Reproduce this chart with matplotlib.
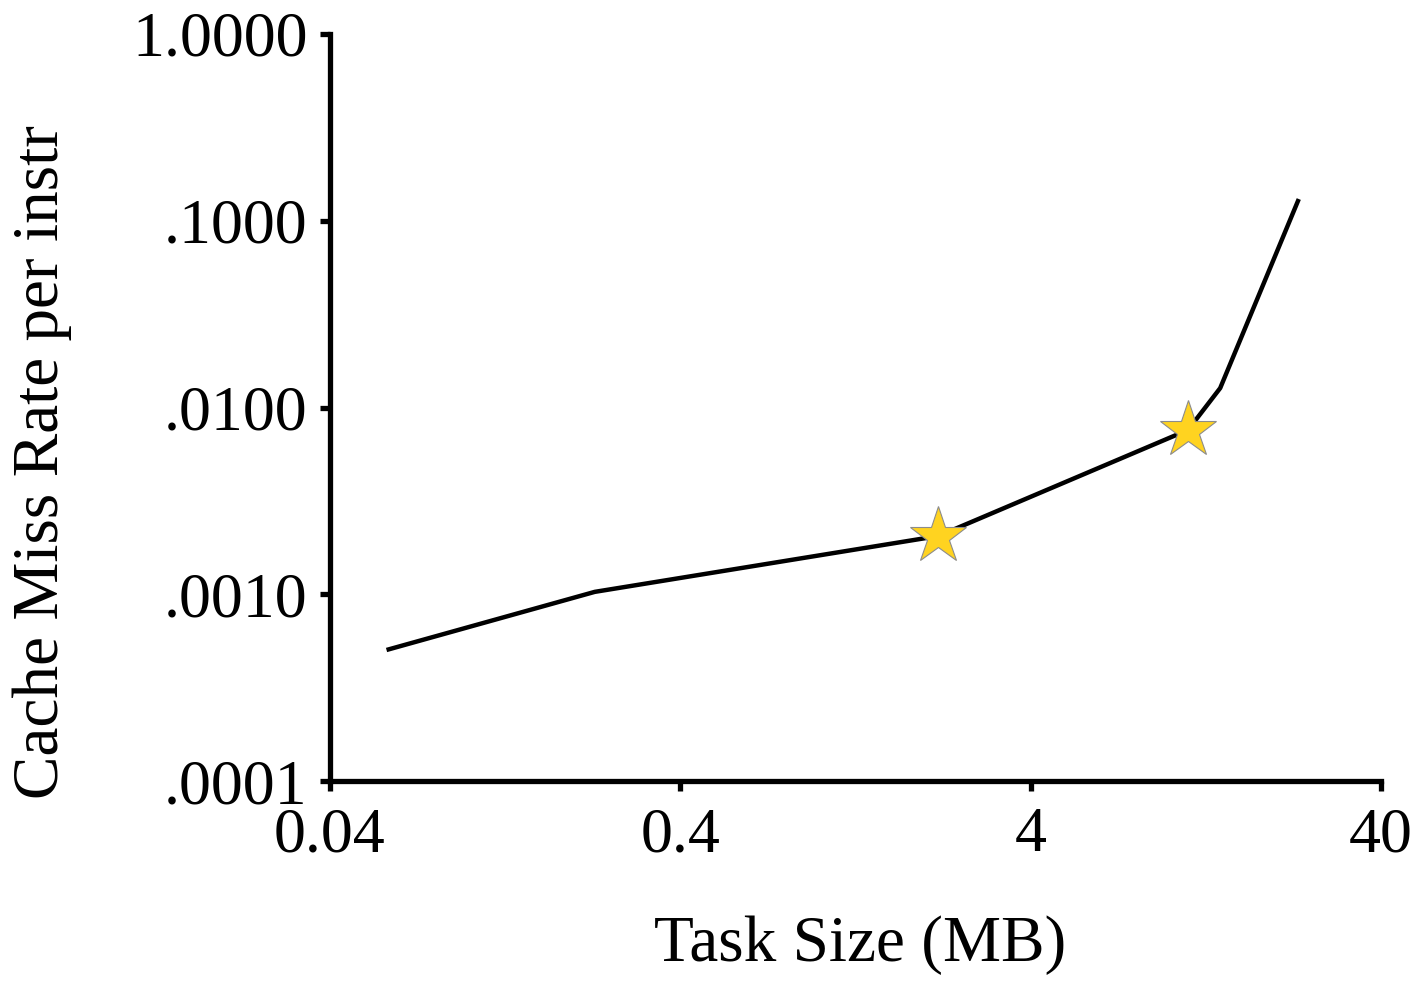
import matplotlib.pyplot as plt
from matplotlib.ticker import FixedLocator, FixedFormatter, NullLocator

# task size (MB) vs cache miss rate per instruction
task_size = [0.058, 0.228, 2.18, 11.25, 13.9, 23.3]
miss_rate = [0.000503, 0.00103, 0.00205, 0.00758, 0.0127, 0.1307]
star_idx = [2, 3]

x_ticks = [0.04, 0.4, 4, 40]
x_labels = ['0.04', '0.4', '4', '40']
y_ticks = [0.0001, 0.001, 0.01, 0.1, 1.0]
y_labels = ['.0001', '.0010', '.0100', '.1000', '1.0000']

plt.rcParams['font.family'] = ['Liberation Serif', 'DejaVu Serif']

fig = plt.figure(figsize=(14.17, 9.82), dpi=100)
ax = fig.add_axes([330 / 1417, 1 - 781 / 982, 1051 / 1417, 747 / 982])

ax.plot(task_size, miss_rate, color='black', lw=3.2, solid_capstyle='butt', zorder=2)
ax.plot([task_size[i] for i in star_idx], [miss_rate[i] for i in star_idx],
        ls='none', marker='*', ms=43, mfc='#FFD320', mec='#8c8c8c', mew=0.8, zorder=3)

ax.set_xscale('log')
ax.set_yscale('log')
ax.set_xlim(0.04, 40)
ax.set_ylim(0.0001, 1.0)
ax.xaxis.set_major_locator(FixedLocator(x_ticks))
ax.xaxis.set_major_formatter(FixedFormatter(x_labels))
ax.xaxis.set_minor_locator(NullLocator())
ax.yaxis.set_major_locator(FixedLocator(y_ticks))
ax.yaxis.set_major_formatter(FixedFormatter(y_labels))
ax.yaxis.set_minor_locator(NullLocator())

for s in ['top', 'right']:
    ax.spines[s].set_visible(False)
for s in ['left', 'bottom']:
    ax.spines[s].set_linewidth(3.8)
ax.tick_params(axis='both', which='major', length=7, width=3.8, direction='out',
               labelsize=46)
ax.tick_params(axis='y', pad=9)
ax.tick_params(axis='x', pad=12)

ax.set_xlabel('Task Size (MB)', fontsize=47)
ax.set_ylabel('Cache Miss Rate per instr', fontsize=47)
ax.xaxis.set_label_coords((860 - 330) / 1051, -(915 - 781) / 747)
ax.yaxis.set_label_coords(-(330 - 72) / 1051, (781 - 462) / 747)

fig.savefig('out.png', dpi=100)
